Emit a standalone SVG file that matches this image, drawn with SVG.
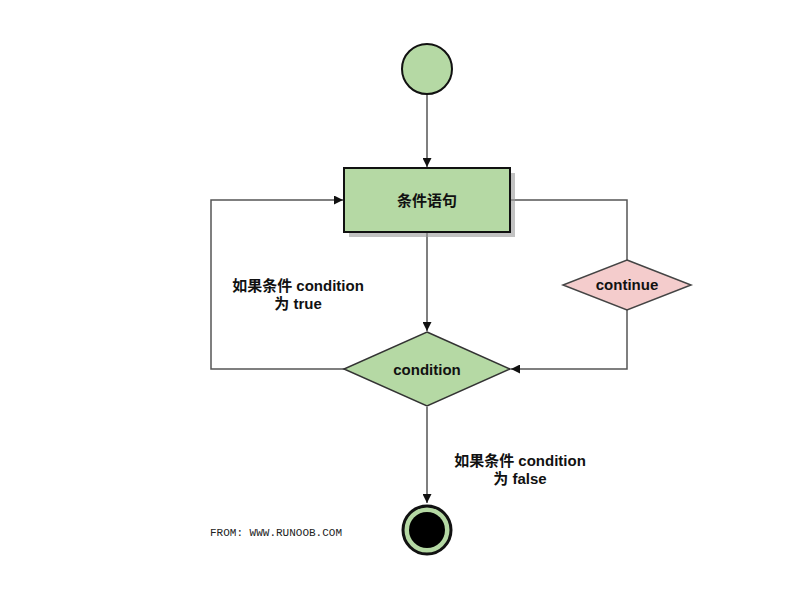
<svg xmlns="http://www.w3.org/2000/svg" width="802" height="589" viewBox="0 0 802 589">
<defs>
<style>
.edge{fill:none;stroke:#555;stroke-width:1.5}
.node{stroke:#111;stroke-width:2}
.green{fill:#b5d9a4}
.pink{fill:#f4cccc;stroke:#444;stroke-width:1.5}
.lbl{font-family:"Liberation Sans","Noto Sans CJK SC",sans-serif;font-weight:bold;font-size:15px;fill:#111;text-anchor:middle}
.mono{font-family:"Liberation Mono",monospace;font-size:11px;fill:#222}
</style>
<marker id="arr" viewBox="0 0 10 10" refX="10" refY="5" markerWidth="9" markerHeight="9" markerUnits="userSpaceOnUse" orient="auto">
<path d="M0,0 L10,5 L0,10 Z" fill="#111"/>
</marker>
</defs>
<rect width="802" height="589" fill="#fff"/>
<g id="connectors">
<path class="edge" d="M427,95 V167" marker-end="url(#arr)"/>
<path class="edge" d="M427,232 V331" marker-end="url(#arr)"/>
<path class="edge" d="M344,369 H211 V200 H343" marker-end="url(#arr)"/>
<path class="edge" d="M510,200 H627 V260"/>
<path class="edge" d="M627,310 V369 H511" marker-end="url(#arr)"/>
<path class="edge" d="M427,407 V503" marker-end="url(#arr)"/>
</g>
<g id="start">
<circle class="node green" cx="427" cy="69" r="25"/>
</g>
<g id="stmt">
<rect x="349" y="173" width="166" height="64" fill="#999" opacity="0.6"/>
<rect class="node green" x="344" y="168" width="166" height="64"/>
<text class="lbl" x="427" y="206">条件语句</text>
</g>
<g id="condition">
<polygon class="green" points="427,332 510,369 427,406 344,369" stroke="#333" stroke-width="1.5"/>
<text class="lbl" x="427" y="375">condition</text>
</g>
<g id="continue">
<polygon class="pink" points="627,260 691,285 627,310 563,285"/>
<text class="lbl" x="627" y="290">continue</text>
</g>
<g id="end">
<circle cx="427" cy="530" r="24" fill="#b5d9a4" stroke="#111" stroke-width="3"/>
<circle cx="427" cy="530" r="18" fill="#000"/>
</g>
<g id="labels">
<text class="lbl" x="298" y="291">如果条件 condition</text>
<text class="lbl" x="298" y="309">为 true</text>
<text class="lbl" x="520" y="466">如果条件 condition</text>
<text class="lbl" x="520" y="484">为 false</text>
<text class="mono" x="210" y="536">FROM: WWW.RUNOOB.COM</text>
</g>
</svg>
